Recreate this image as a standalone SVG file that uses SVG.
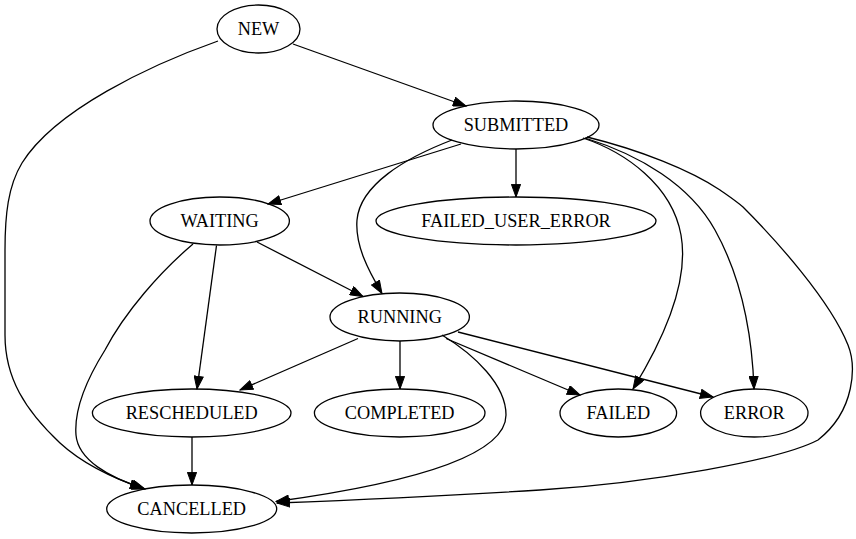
<svg xmlns="http://www.w3.org/2000/svg" width="856" height="539" viewBox="0 0 856 539">
<style>
.n ellipse{fill:none;stroke:#000;stroke-width:1.3}
.n text{font-family:"Liberation Serif","Times New Roman",serif;font-size:18.3px;text-anchor:middle;fill:#000}
#edges path{fill:none;stroke:#000;stroke-width:1.3;marker-end:url(#ah)}
</style>
<defs>
<marker id="ah" markerUnits="userSpaceOnUse" viewBox="0 0 14 10" markerWidth="14" markerHeight="10" refX="13.3" refY="5" orient="auto">
<path d="M0.6,0.4 L13.3,5 L0.6,9.6 Z" fill="#000" stroke="#000" stroke-width="1"/>
</marker>
</defs>
<rect width="856" height="539" fill="#fff"/>
<g id="edges">
<path d="M293,44 L466,106"/>
<path d="M218,41 C150,65 55,110 22,163 C8,186 5,215 5,250 L5,335 C5,378 25,410 60,443 C85,466 115,479 145,489"/>
<path d="M461,144 L268,204"/>
<path d="M516,149 L516,197"/>
<path d="M452,140 C405,158 360,185 357,220 C355,245 368,270 382,293.5"/>
<path d="M583,138 C625,152 672,185 681,235 C690,285 660,345 633,389"/>
<path d="M585,138 C640,155 690,185 715,230 C740,275 752,330 754,389"/>
<path d="M587,137 C640,150 690,170 720,190 C730,197 736,201 743,207 C775,239 830,300 848,345 C856,365 856,410 818,440 C780,460 650,483 540,490 C430,497 330,501 277,503"/>
<path d="M257,242 L363,296.5"/>
<path d="M216.5,245.5 L197,389"/>
<path d="M193,244 C160,272 125,312 105,350 C85,382 74,410 76,435 C78,460 110,478 143,488"/>
<path d="M358,338.5 L240,390"/>
<path d="M400,341 L400,389"/>
<path d="M446,338.5 L580,395"/>
<path d="M458,332 L713,397"/>
<path d="M442,335 C475,355 506,385 506,415 C506,465 360,490 276,501.5"/>
<path d="M192,437 L192,485"/>
</g>
<g id="NEW" class="n"><ellipse cx="258.5" cy="29" rx="41.5" ry="24"/><text x="258.5" y="34.5">NEW</text></g>
<g id="SUBMITTED" class="n"><ellipse cx="516" cy="125" rx="83" ry="24"/><text x="516" y="130.5">SUBMITTED</text></g>
<g id="WAITING" class="n"><ellipse cx="219.7" cy="221" rx="69.7" ry="24"/><text x="219.7" y="226.5">WAITING</text></g>
<g id="FAILED_USER_ERROR" class="n"><ellipse cx="516" cy="221" rx="140" ry="24"/><text x="516" y="226.5">FAILED_USER_ERROR</text></g>
<g id="RUNNING" class="n"><ellipse cx="399.7" cy="317" rx="69.7" ry="24"/><text x="399.7" y="322.5">RUNNING</text></g>
<g id="RESCHEDULED" class="n"><ellipse cx="191.7" cy="413" rx="99.3" ry="24"/><text x="191.7" y="418.5">RESCHEDULED</text></g>
<g id="COMPLETED" class="n"><ellipse cx="399.7" cy="413" rx="85.3" ry="24"/><text x="399.7" y="418.5">COMPLETED</text></g>
<g id="FAILED" class="n"><ellipse cx="618.3" cy="413" rx="58.3" ry="24"/><text x="618.3" y="418.5">FAILED</text></g>
<g id="ERROR" class="n"><ellipse cx="754.3" cy="413" rx="53.7" ry="24"/><text x="754.3" y="418.5">ERROR</text></g>
<g id="CANCELLED" class="n"><ellipse cx="191.7" cy="509" rx="85" ry="24"/><text x="191.7" y="514.5">CANCELLED</text></g>
</svg>
